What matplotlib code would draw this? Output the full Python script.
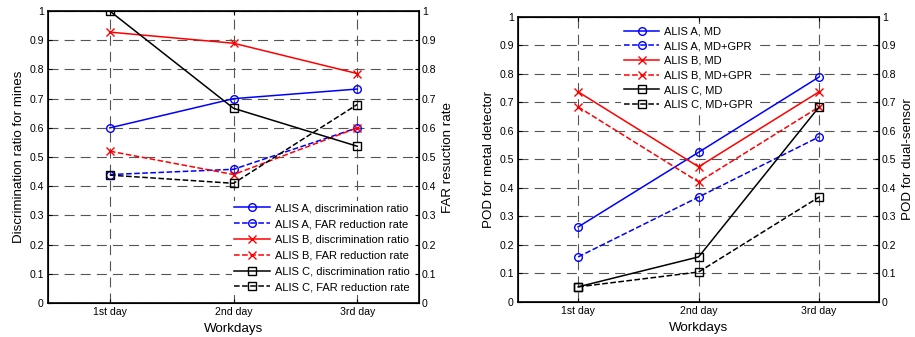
import matplotlib
matplotlib.use("Agg")
import matplotlib.pyplot as plt

days = ["1st day", "2nd day", "3rd day"]

# Left panel: discrimination ratio / FAR reduction rate
a_disc = [0.60, 0.70, 0.733]
a_far = [0.44, 0.458, 0.60]
b_disc = [0.928, 0.89, 0.786]
b_far = [0.52, 0.44, 0.60]
c_disc = [1.0, 0.667, 0.537]
c_far = [0.438, 0.41, 0.68]

# Right panel: POD for metal detector / dual-sensor
a_md = [0.263, 0.525, 0.789]
a_mdgpr = [0.158, 0.368, 0.579]
b_md = [0.737, 0.474, 0.737]
b_mdgpr = [0.684, 0.421, 0.684]
c_md = [0.053, 0.158, 0.684]
c_mdgpr = [0.053, 0.105, 0.368]

yticks = [0, 0.1, 0.2, 0.3, 0.4, 0.5, 0.6, 0.7, 0.8, 0.9, 1]
yticklabels = ["0", "0.1", "0.2", "0.3", "0.4", "0.5", "0.6", "0.7", "0.8", "0.9", "1"]

plt.rcParams["font.family"] = ["Liberation Sans", "DejaVu Sans"]
fig = plt.figure(figsize=(9.15, 3.37), dpi=100)

TICK_FS = 7.6
LEG_FS = 8
LABEL_FS = 9.6
x = [1, 2, 3]


def style_axes(ax):
    ax.set_xlim(0.5, 3.5)
    ax.set_ylim(0, 1)
    ax.set_xticks(x)
    ax.set_xticklabels(days, fontsize=TICK_FS)
    ax.set_yticks(yticks)
    ax.set_yticklabels(yticklabels, fontsize=TICK_FS)
    ax.tick_params(direction="in", length=3, width=0.8, top=True, pad=3)
    ax.grid(True, color="#555555", linestyle=(0, (9, 5.5)), linewidth=0.8)
    for s in ax.spines.values():
        s.set_linewidth(1.2)
    ax.set_axisbelow(True)


def right_twin(ax, label):
    tw = ax.twinx()
    tw.set_ylim(0, 1)
    tw.set_yticks(yticks)
    tw.set_yticklabels(yticklabels, fontsize=TICK_FS)
    tw.tick_params(direction="in", length=3, width=0.8, pad=2)
    tw.set_ylabel(label, fontsize=LABEL_FS, labelpad=4)
    return tw


mk = dict(markersize=5.5, markerfacecolor="none", markeredgewidth=1.0, linewidth=1.1)
leg_kw = dict(frameon=True, framealpha=1, edgecolor="white", fancybox=False,
              handlelength=3.2, borderpad=0.25, handletextpad=0.45)

# ---- left panel ----
ax1 = fig.add_axes([0.0525, 0.101, 0.4055, 0.866])
style_axes(ax1)
ax1.plot(x, a_disc, "-", color="blue", marker="o", label="ALIS A, discrimination ratio", **mk)
ax1.plot(x, a_far, "--", color="blue", marker="o", label="ALIS A, FAR reduction rate", **mk)
ax1.plot(x, b_disc, "-", color="red", marker="x", label="ALIS B, discrimination ratio", **mk)
ax1.plot(x, b_far, "--", color="red", marker="x", label="ALIS B, FAR reduction rate", **mk)
ax1.plot(x, c_disc, "-", color="black", marker="s", label="ALIS C, discrimination ratio", **mk)
ax1.plot(x, c_far, "--", color="black", marker="s", label="ALIS C, FAR reduction rate", **mk)
ax1.set_ylabel("Discrimination ratio for mines", fontsize=LABEL_FS, labelpad=3)
ax1.set_xlabel("Workdays", fontsize=LABEL_FS, labelpad=4)
right_twin(ax1, "FAR resuction rate")
leg1 = ax1.legend(loc="upper left", bbox_to_anchor=(0.48, 0.37), fontsize=LEG_FS,
                  labelspacing=0.52, **leg_kw)
leg1.get_frame().set_linewidth(0)

# ---- right panel ----
ax2 = fig.add_axes([0.566, 0.104, 0.395, 0.846])
style_axes(ax2)
ax2.plot(x, a_md, "-", color="blue", marker="o", label="ALIS A, MD", **mk)
ax2.plot(x, a_mdgpr, "--", color="blue", marker="o", label="ALIS A, MD+GPR", **mk)
ax2.plot(x, b_md, "-", color="red", marker="x", label="ALIS B, MD", **mk)
ax2.plot(x, b_mdgpr, "--", color="red", marker="x", label="ALIS B, MD+GPR", **mk)
ax2.plot(x, c_md, "-", color="black", marker="s", label="ALIS C, MD", **mk)
ax2.plot(x, c_mdgpr, "--", color="black", marker="s", label="ALIS C, MD+GPR", **mk)
ax2.set_ylabel("POD for metal detector", fontsize=LABEL_FS, labelpad=3)
ax2.set_xlabel("Workdays", fontsize=LABEL_FS, labelpad=4)
right_twin(ax2, "POD for dual-sensor")
leg2 = ax2.legend(loc="upper left", bbox_to_anchor=(0.27, 0.995), fontsize=LEG_FS,
                  labelspacing=0.42, **leg_kw)
leg2.get_frame().set_linewidth(0)

fig.savefig("out.png", dpi=100)
